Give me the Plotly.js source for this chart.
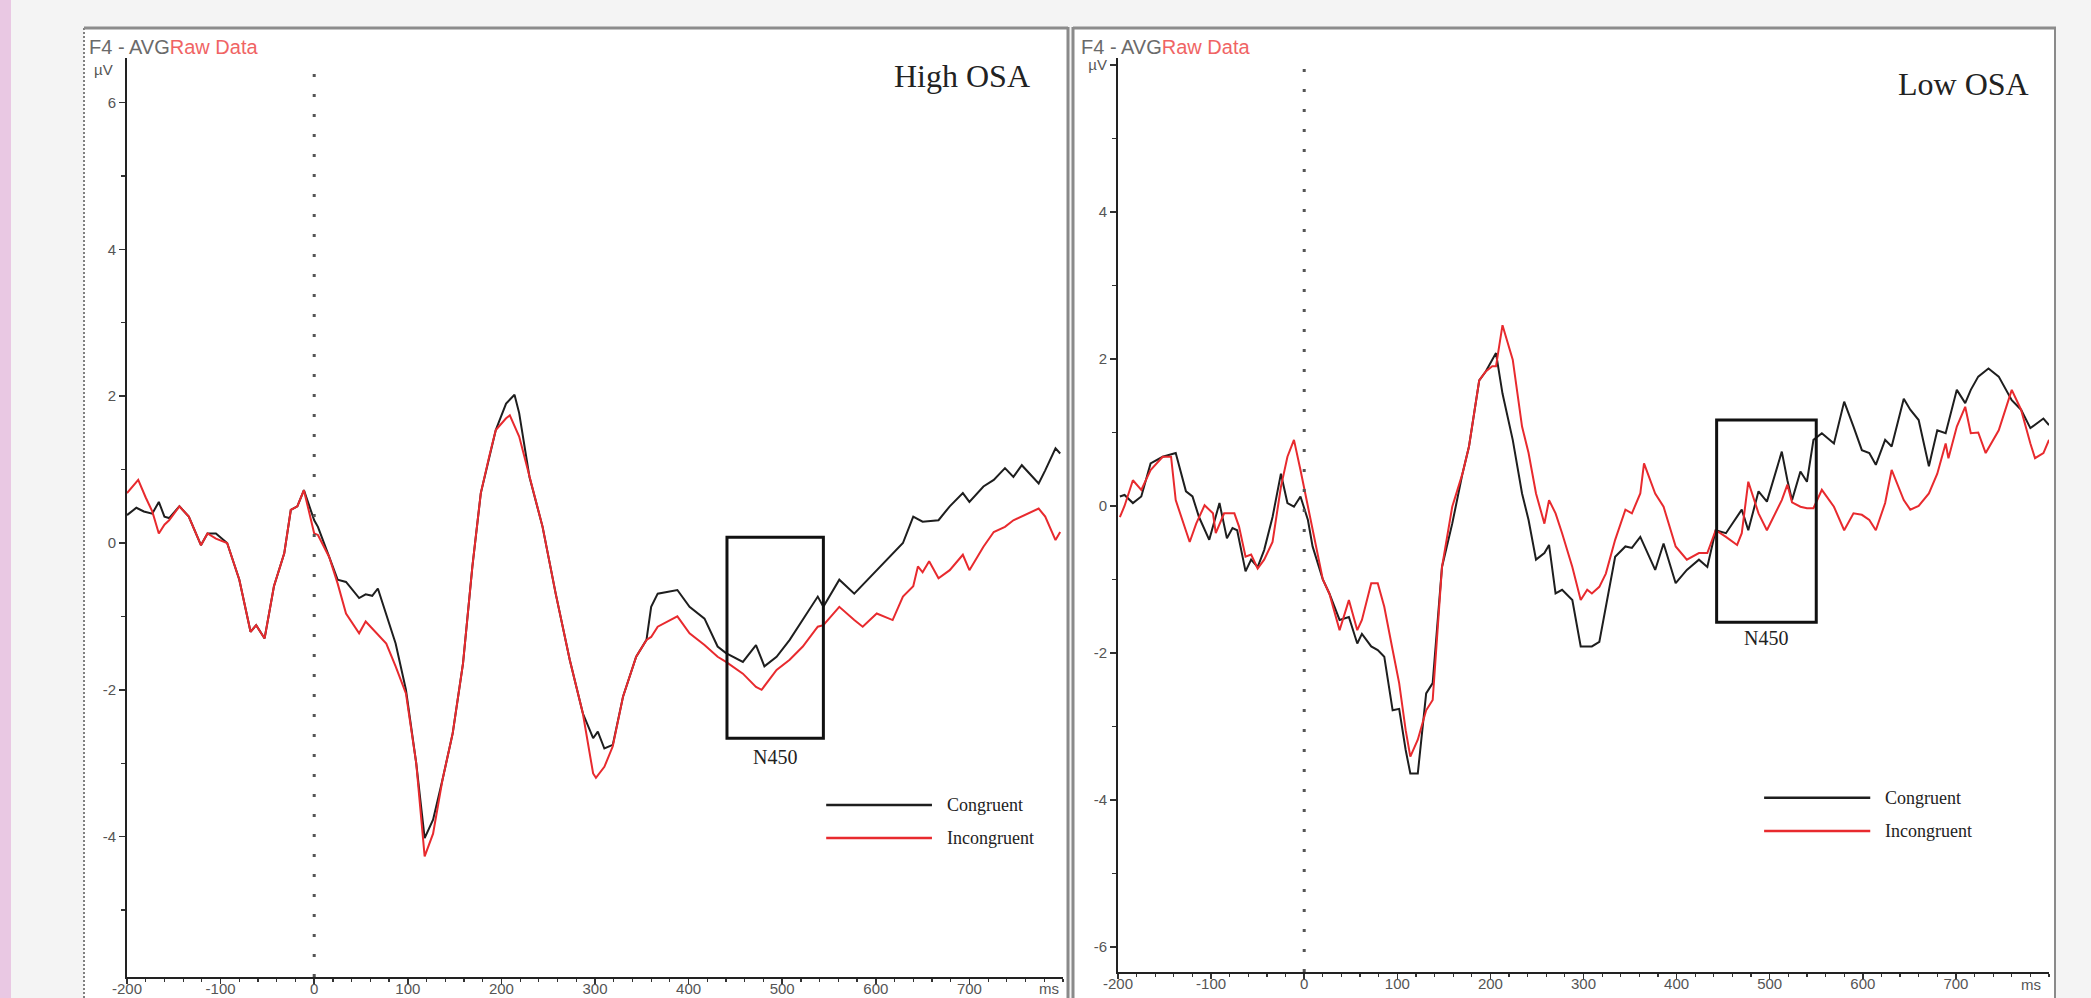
<!DOCTYPE html>
<html>
<head>
<meta charset="utf-8">
<script src="https://cdn.plot.ly/plotly-3.0.1.min.js"></script>
<style>
html,body{margin:0;padding:0;background:#f4f4f4;}
#chart{width:2091px;height:998px;}
</style>
</head>
<body>
<div id="chart"></div>
<script>
// ---------------- DATA ----------------
// High OSA panel (left)
const highCongT = [-200,-190,-182,-173,-166,-160,-155,-144,-134,-121,-114,-105,-93,-80,-68,-62,-53,-43,-32,-25,-18,-11,0,4,16,25,34,48,55,62,68,77,87,98,109,118,127,137,148,159,169,178,187,194,205,214,219,230,244,258,273,287,298,303,310,319,330,344,355,360,367,388,401,417,431,440,458,472,481,494,508,522,538,544,561,577,601,618,629,640,650,667,679,693,700,715,726,738,747,756,774,781,792,797];
const highCong  = [0.38,0.48,0.43,0.40,0.56,0.36,0.34,0.50,0.36,-0.03,0.13,0.13,0.00,-0.50,-1.21,-1.12,-1.30,-0.59,-0.14,0.45,0.50,0.72,0.31,0.22,-0.19,-0.50,-0.53,-0.75,-0.70,-0.72,-0.62,-0.96,-1.37,-2.00,-3.00,-4.02,-3.77,-3.23,-2.59,-1.64,-0.32,0.68,1.18,1.54,1.90,2.02,1.77,0.90,0.22,-0.69,-1.59,-2.32,-2.66,-2.57,-2.80,-2.75,-2.09,-1.55,-1.32,-0.87,-0.69,-0.64,-0.87,-1.03,-1.41,-1.50,-1.62,-1.39,-1.68,-1.55,-1.32,-1.05,-0.73,-0.87,-0.50,-0.69,-0.37,-0.14,0.00,0.36,0.29,0.31,0.50,0.68,0.56,0.77,0.86,1.02,0.90,1.06,0.81,0.99,1.29,1.22];

const highIncT = [-200,-188,-180,-173,-166,-160,-155,-144,-134,-121,-114,-105,-93,-80,-68,-62,-53,-43,-32,-25,-18,-11,0,4,16,25,34,48,55,68,77,87,98,109,118,127,137,148,159,169,178,187,194,205,209,219,230,244,258,273,287,298,301,310,319,330,344,355,360,367,388,401,417,431,440,458,472,478,494,508,522,538,544,561,577,586,601,618,629,640,645,650,657,667,679,693,700,715,726,738,747,756,774,781,792,797];
const highInc  = [0.68,0.86,0.62,0.43,0.13,0.25,0.31,0.50,0.36,-0.03,0.13,0.06,0.00,-0.50,-1.21,-1.12,-1.30,-0.59,-0.14,0.45,0.50,0.72,0.13,0.11,-0.19,-0.55,-0.96,-1.23,-1.07,-1.25,-1.37,-1.68,-2.05,-3.00,-4.27,-3.96,-3.23,-2.59,-1.64,-0.32,0.68,1.18,1.54,1.70,1.74,1.45,0.90,0.22,-0.69,-1.59,-2.32,-3.14,-3.20,-3.05,-2.77,-2.09,-1.55,-1.32,-1.28,-1.14,-1.00,-1.23,-1.39,-1.55,-1.62,-1.78,-1.96,-2.00,-1.73,-1.59,-1.41,-1.14,-1.12,-0.87,-1.05,-1.14,-0.96,-1.05,-0.73,-0.59,-0.32,-0.40,-0.25,-0.48,-0.37,-0.16,-0.37,-0.05,0.15,0.22,0.31,0.36,0.47,0.36,0.04,0.15];

// Low OSA panel (right)
const lowCongT = [-198,-193,-184,-175,-165,-152,-138,-127,-120,-113,-102,-91,-83,-77,-72,-63,-57,-50,-43,-34,-25,-18,-11,-4,4,9,20,27,38,48,57,62,72,79,86,95,102,109,114,122,131,138,148,159,170,177,188,195,202,206,213,224,234,241,249,258,263,270,277,288,297,304,309,317,324,334,345,352,361,377,386,399,411,424,433,442,453,465,470,477,488,497,513,519,524,533,540,547,556,569,580,590,599,607,614,624,631,644,651,660,671,680,689,701,710,716,724,735,746,760,770,780,794,800];
const lowCong  = [0.13,0.15,0.04,0.13,0.58,0.67,0.72,0.20,0.13,-0.15,-0.46,0.04,-0.44,-0.30,-0.33,-0.89,-0.73,-0.83,-0.60,-0.15,0.44,0.04,-0.01,0.13,-0.19,-0.55,-1.00,-1.19,-1.55,-1.51,-1.87,-1.74,-1.91,-1.96,-2.05,-2.78,-2.76,-3.32,-3.64,-3.64,-2.55,-2.41,-0.83,-0.24,0.44,0.81,1.71,1.83,1.99,2.08,1.53,0.90,0.17,-0.19,-0.73,-0.64,-0.53,-1.19,-1.14,-1.28,-1.91,-1.91,-1.91,-1.85,-1.37,-0.69,-0.55,-0.57,-0.42,-0.87,-0.51,-1.05,-0.87,-0.73,-0.83,-0.33,-0.37,-0.15,-0.05,-0.33,0.20,0.06,0.74,0.35,0.08,0.47,0.33,0.90,0.99,0.85,1.42,1.08,0.76,0.72,0.56,0.90,0.81,1.46,1.31,1.17,0.54,1.03,0.99,1.58,1.40,1.58,1.76,1.87,1.76,1.44,1.31,1.06,1.19,1.10];

const lowIncT = [-198,-193,-184,-175,-165,-152,-143,-138,-123,-116,-107,-98,-95,-86,-75,-70,-63,-57,-50,-43,-34,-25,-18,-11,-4,4,9,20,27,38,48,57,62,72,79,86,95,102,109,114,122,131,138,148,159,170,177,188,195,202,206,213,224,234,241,249,258,263,270,277,288,297,304,309,317,324,334,345,352,361,365,377,386,399,411,424,433,442,453,465,470,477,488,497,513,519,524,533,540,547,556,569,580,590,599,607,614,624,631,644,651,660,671,680,689,692,701,710,716,724,732,746,760,770,780,785,794,800];
const lowInc  = [-0.15,0.00,0.35,0.22,0.49,0.67,0.67,0.08,-0.49,-0.24,0.01,-0.10,-0.37,-0.10,-0.10,-0.28,-0.69,-0.66,-0.85,-0.73,-0.49,0.26,0.67,0.90,0.49,-0.01,-0.33,-1.00,-1.19,-1.69,-1.28,-1.69,-1.55,-1.05,-1.05,-1.37,-1.96,-2.41,-3.05,-3.41,-3.18,-2.78,-2.64,-0.83,-0.01,0.44,0.81,1.71,1.83,1.90,1.90,2.46,1.99,1.08,0.72,0.17,-0.24,0.08,-0.10,-0.37,-0.83,-1.28,-1.14,-1.19,-1.10,-0.92,-0.46,-0.05,-0.10,0.17,0.58,0.17,-0.01,-0.55,-0.73,-0.64,-0.64,-0.33,-0.42,-0.53,-0.37,0.33,-0.10,-0.33,0.08,0.29,0.05,-0.01,-0.03,-0.03,0.22,-0.01,-0.33,-0.10,-0.12,-0.19,-0.33,0.04,0.49,0.08,-0.05,0.00,0.17,0.44,0.85,0.65,1.08,1.35,0.99,1.00,0.72,1.03,1.58,1.31,0.85,0.65,0.72,0.90];

// Tick labels
const xTickVals = [-200,-100,0,100,200,300,400,500,600,700];
const xTickText = ['-200','-100','0','100','200','300','400','500','600','700'];
const yTickValsLeft = [-4,-2,0,2,4,6];
const yTickTextLeft = ['-4','-2','0','2','4','6'];
const yTickValsRight = [-6,-4,-2,0,2,4,6];
const yTickTextRight = ['-6','-4','-2','0','2','4','\u00b5V'];

// N450 windows
const n450Left  = {t0:441, t1:544, v0:-2.66, v1:0.08};
const n450Right = {t0:443, t1:550, v0:-1.58, v1:1.17};

const seriesNames = ['Congruent','Incongruent'];
const panelTitles = ['High OSA','Low OSA'];

// ---------------- STYLE ----------------
const W = 2091, H = 998;
const px = v => v / W;          // pixel -> paper x
const py = v => 1 - v / H;      // pixel -> paper y
const BLACK = '#1e1e1e', RED = '#e82a2e';
const tickFont = {family:'Liberation Sans, Arial, sans-serif', size:15, color:'#555'};
const xTickFont = {family:'Liberation Sans, Arial, sans-serif', size:15, color:'#555'};
const serif = 'Liberation Serif, Times New Roman, serif';

function xAxis(domain, anchor){
  return {
    domain: domain, anchor: anchor, range:[-200,800], showgrid:false, zeroline:false,
    showline:true, linecolor:'#222', linewidth:2,
    tickmode:'array', tickvals:xTickVals, ticktext:xTickText,
    ticks:'outside', ticklen:5, tickwidth:1.5, tickcolor:'#333', tickfont:xTickFont,
    ticklabelstandoff:-8,
    minor:{tickmode:'linear', tick0:0, dtick:20, ticks:'outside', ticklen:3, tickwidth:1.2, tickcolor:'#333'},
    fixedrange:true
  };
}
function yAxis(domain, anchor, range, vals, text){
  return {
    domain: domain, anchor: anchor, range: range, showgrid:false, zeroline:false,
    showline:true, linecolor:'#222', linewidth:2,
    tickmode:'array', tickvals:vals, ticktext:text,
    ticks:'outside', ticklen:6, tickwidth:1.5, tickcolor:'#333', tickfont:tickFont,
    minor:{tickmode:'linear', tick0:0, dtick:1, ticks:'outside', ticklen:4, tickwidth:1.2, tickcolor:'#333'},
    fixedrange:true
  };
}

const traces = [
  {x:highCongT, y:highCong, xaxis:'x', yaxis:'y', name:seriesNames[0], mode:'lines', line:{color:BLACK, width:2}},
  {x:highIncT,  y:highInc,  xaxis:'x', yaxis:'y', name:seriesNames[1], mode:'lines', line:{color:RED, width:2}},
  {x:lowCongT,  y:lowCong,  xaxis:'x2', yaxis:'y2', name:seriesNames[0], mode:'lines', line:{color:BLACK, width:2}},
  {x:lowIncT,   y:lowInc,   xaxis:'x2', yaxis:'y2', name:seriesNames[1], mode:'lines', line:{color:RED, width:2}}
];

const shapes = [
  // pink strip
  {type:'rect', xref:'paper', yref:'paper', x0:0, x1:px(11), y0:0, y1:1, fillcolor:'#e9c8e3', line:{width:0}, layer:'below'},
  // panel backgrounds
  {type:'rect', xref:'paper', yref:'paper', x0:px(84), x1:px(1068), y0:-0.05, y1:py(28), fillcolor:'#ffffff', line:{width:0}, layer:'below'},
  {type:'rect', xref:'paper', yref:'paper', x0:px(1074), x1:px(2055), y0:-0.05, y1:py(28), fillcolor:'#ffffff', line:{width:0}, layer:'below'},
  // left panel borders
  {type:'line', xref:'paper', yref:'paper', x0:px(84), x1:px(84), y0:0, y1:py(28), line:{color:'#808080', width:2, dash:'2px,2px'}},
  {type:'line', xref:'paper', yref:'paper', x0:px(84), x1:px(1068), y0:py(28), y1:py(28), line:{color:'#8c8c8c', width:3}},
  {type:'line', xref:'paper', yref:'paper', x0:px(1068), x1:px(1068), y0:0, y1:py(27), line:{color:'#8a8a8a', width:3}},
  // right panel borders
  {type:'line', xref:'paper', yref:'paper', x0:px(1073), x1:px(1073), y0:0, y1:py(27), line:{color:'#8a8a8a', width:3}},
  {type:'line', xref:'paper', yref:'paper', x0:px(1073), x1:px(2056), y0:py(28), y1:py(28), line:{color:'#8c8c8c', width:3}},
  {type:'line', xref:'paper', yref:'paper', x0:px(2055), x1:px(2055), y0:0, y1:py(27), line:{color:'#8a8a8a', width:2}},
  // stimulus onset dotted lines
  {type:'line', xref:'x', yref:'y domain', x0:0, x1:0, y0:0, y1:0.99, line:{color:'#555', width:3, dash:'3px,17px'}},
  {type:'line', xref:'x2', yref:'y2 domain', x0:0, x1:0, y0:0, y1:0.99, line:{color:'#555', width:3, dash:'3px,17px'}},
  // N450 windows
  {type:'rect', xref:'x', yref:'y', x0:n450Left.t0, x1:n450Left.t1, y0:n450Left.v0, y1:n450Left.v1, line:{color:'#111', width:3}, fillcolor:'rgba(0,0,0,0)'},
  {type:'rect', xref:'x2', yref:'y2', x0:n450Right.t0, x1:n450Right.t1, y0:n450Right.v0, y1:n450Right.v1, line:{color:'#111', width:3}, fillcolor:'rgba(0,0,0,0)'},
  // legend keys
  {type:'line', xref:'x', yref:'y', x0:547, x1:660, y0:-3.57, y1:-3.57, line:{color:BLACK, width:2.5}},
  {type:'line', xref:'x', yref:'y', x0:547, x1:660, y0:-4.02, y1:-4.02, line:{color:RED, width:2.5}},
  {type:'line', xref:'x2', yref:'y2', x0:494, x1:608, y0:-3.97, y1:-3.97, line:{color:BLACK, width:2.5}},
  {type:'line', xref:'x2', yref:'y2', x0:494, x1:608, y0:-4.42, y1:-4.42, line:{color:RED, width:2.5}}
];

const hdr = 'F4 - AVG<span style="color:#f06464">Raw Data</span>';
const hdrFont = {family:'Liberation Sans, Arial, sans-serif', size:20, color:'#6a6a6a'};
const annotations = [
  {xref:'paper', yref:'paper', x:px(87), y:py(47), text:hdr, showarrow:false, xanchor:'left', yanchor:'middle', font:hdrFont},
  {xref:'paper', yref:'paper', x:px(1079), y:py(47), text:hdr, showarrow:false, xanchor:'left', yanchor:'middle', font:hdrFont},
  {xref:'paper', yref:'paper', x:px(92), y:py(70), text:'\u00b5V', showarrow:false, xanchor:'left', yanchor:'middle', font:tickFont},
  {xref:'paper', yref:'paper', x:px(962), y:py(76), text:panelTitles[0], showarrow:false, xanchor:'center', yanchor:'middle', font:{family:serif, size:32, color:'#222'}},
  {xref:'paper', yref:'paper', x:px(1963), y:py(84), text:panelTitles[1], showarrow:false, xanchor:'center', yanchor:'middle', font:{family:serif, size:32, color:'#222'}},
  {xref:'x', yref:'y', x:(n450Left.t0+n450Left.t1)/2, y:-2.92, text:'N450', showarrow:false, xanchor:'center', yanchor:'middle', font:{family:serif, size:20, color:'#222'}},
  {xref:'x2', yref:'y2', x:(n450Right.t0+n450Right.t1)/2, y:-1.80, text:'N450', showarrow:false, xanchor:'center', yanchor:'middle', font:{family:serif, size:20, color:'#222'}},
  {xref:'x', yref:'y', x:674, y:-3.57, text:seriesNames[0], showarrow:false, xanchor:'left', yanchor:'middle', font:{family:serif, size:18, color:'#222'}},
  {xref:'x', yref:'y', x:674, y:-4.02, text:seriesNames[1], showarrow:false, xanchor:'left', yanchor:'middle', font:{family:serif, size:18, color:'#222'}},
  {xref:'x2', yref:'y2', x:622, y:-3.97, text:seriesNames[0], showarrow:false, xanchor:'left', yanchor:'middle', font:{family:serif, size:18, color:'#222'}},
  {xref:'x2', yref:'y2', x:622, y:-4.42, text:seriesNames[1], showarrow:false, xanchor:'left', yanchor:'middle', font:{family:serif, size:18, color:'#222'}},
  {xref:'x', yref:'paper', x:785, y:py(978), text:'ms', showarrow:false, xanchor:'center', yanchor:'top', font:xTickFont},
  {xref:'x2', yref:'paper', x:781, y:py(974), text:'ms', showarrow:false, xanchor:'center', yanchor:'top', font:xTickFont}
];

const layout = {
  width:W, height:H, margin:{l:0, r:0, t:0, b:0, pad:0},
  paper_bgcolor:'#f4f4f4', plot_bgcolor:'rgba(0,0,0,0)', showlegend:false,
  xaxis: xAxis([px(127), px(1063)], 'y'),
  yaxis: yAxis([1-977/H, 1-58/H], 'x', [-5.913, 6.608], yTickValsLeft, yTickTextLeft),
  xaxis2: xAxis([px(1118), px(2049)], 'y2'),
  yaxis2: yAxis([1-972/H, 1-58/H], 'x2', [-6.34, 6.095], yTickValsRight, yTickTextRight),
  shapes: shapes, annotations: annotations
};

Plotly.newPlot('chart', traces, layout, {displayModeBar:false, staticPlot:true});
</script>
</body>
</html>
